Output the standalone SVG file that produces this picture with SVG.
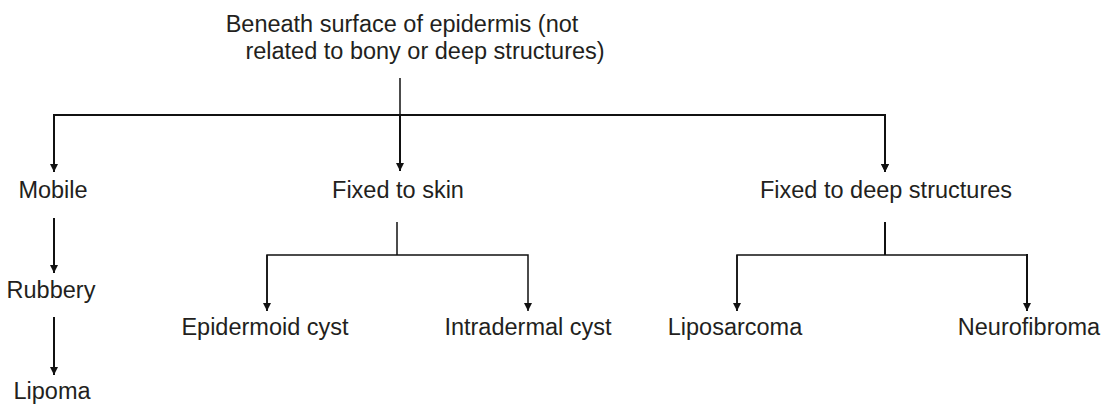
<svg xmlns="http://www.w3.org/2000/svg" width="1104" height="404" viewBox="0 0 1104 404">
  <style>
    .t { font-family: "Liberation Sans", Arial, sans-serif; font-size: 23.5px; fill: #231f20; text-anchor: middle; }
    .c { stroke: #111; fill: none; stroke-width: 2; }
    .thin { stroke-width: 1.5; }
  </style>
  <defs>
    <marker id="ah" viewBox="0 0 10 10" refX="10" refY="5" markerWidth="10" markerHeight="8" markerUnits="userSpaceOnUse" orient="auto">
      <path d="M0,0 L10,5 L0,10 z" fill="#111"/>
    </marker>
  </defs>
  <rect width="1104" height="404" fill="#fff"/>

  <g id="connectors">
    <path class="c thin" d="M400,78 V115"/>
    <path class="c" d="M54,172 V115 H885 V172" marker-end="url(#ah)"/>
    <path class="c" d="M54,115 V172" marker-end="url(#ah)"/>
    <path class="c" d="M400,115 V171" marker-end="url(#ah)"/>
    <path class="c" d="M885,115 V172" marker-end="url(#ah)"/>
    <path class="c" d="M54,218 V273" marker-end="url(#ah)"/>
    <path class="c" d="M54,317 V375" marker-end="url(#ah)"/>
    <path class="c thin" d="M397,222 V255"/>
    <path class="c thin" d="M267,311 V255 H528 V311" marker-end="url(#ah)"/>
    <path class="c thin" d="M267,255 V311" marker-end="url(#ah)"/>
    <path class="c" d="M885,222 V255"/>
    <path class="c thin" d="M737,311 V255 H1027" />
    <path class="c thin" d="M737,255 V311" marker-end="url(#ah)"/>
    <path class="c" d="M1027,254 V311" marker-end="url(#ah)"/>
  </g>

  <g id="root">
    <text class="t" x="402" y="32">Beneath surface of epidermis (not</text>
    <text class="t" x="425" y="59">related to bony or deep structures)</text>
  </g>
  <g id="mobile"><text class="t" x="53" y="198">Mobile</text></g>
  <g id="rubbery"><text class="t" x="51" y="298">Rubbery</text></g>
  <g id="lipoma"><text class="t" x="52" y="399">Lipoma</text></g>
  <g id="fixed-skin"><text class="t" x="398" y="198">Fixed to skin</text></g>
  <g id="fixed-deep"><text class="t" x="886" y="198">Fixed to deep structures</text></g>
  <g id="epidermoid"><text class="t" x="265" y="335">Epidermoid cyst</text></g>
  <g id="intradermal"><text class="t" x="528" y="335">Intradermal cyst</text></g>
  <g id="liposarcoma"><text class="t" x="735" y="335">Liposarcoma</text></g>
  <g id="neurofibroma"><text class="t" x="1029" y="335">Neurofibroma</text></g>
</svg>
